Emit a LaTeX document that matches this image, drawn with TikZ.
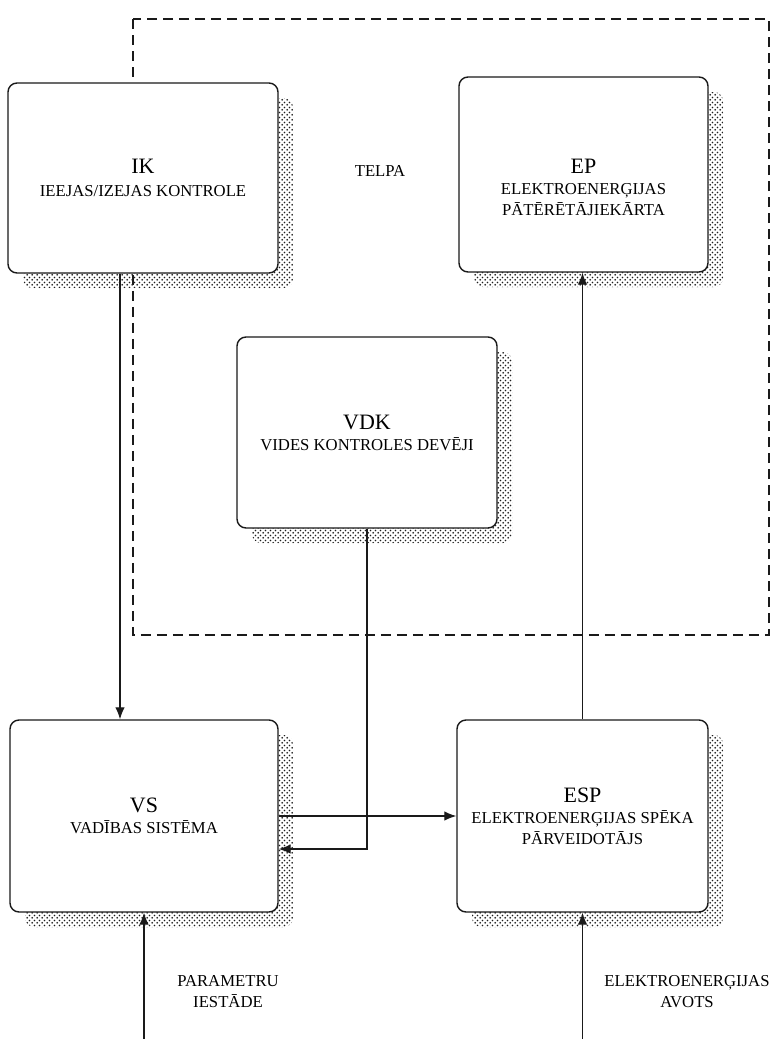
\documentclass[tikz,border=0pt]{standalone}
\usepackage{fontspec}
\setmainfont{Liberation Serif}
\usepackage{xcolor}
\definecolor{blokLine}{HTML}{1A1A1A}
\definecolor{blokDots}{HTML}{1F1F1F}
\usetikzlibrary{arrows.meta,patterns,shadows}

\pgfdeclarepatternformonly{punkti}{\pgfpointorigin}{\pgfpoint{3pt}{3pt}}{\pgfpoint{3pt}{3pt}}{
  \pgfpathcircle{\pgfpoint{0.75pt}{0.75pt}}{0.62pt}
  \pgfpathcircle{\pgfpoint{2.25pt}{2.25pt}}{0.62pt}
  \pgfusepath{fill}}

\tikzset{
  blok/.style={draw=blokLine, line width=0.8pt, fill=white, rounded corners=0.18cm,
    align=center, inner sep=0pt, font=\fontsize{9.5}{12}\selectfont,
    drop shadow={shadow xshift=0.3cm, shadow yshift=-0.3cm, pattern=punkti,
      pattern color=blokDots, opacity=1}},
  pil/.style={draw=blokLine, line width=0.7pt, -{Latex[length=2.4mm,width=1.9mm]}},
  zime/.style={align=center, font=\fontsize{9.5}{12}\selectfont}
}
\newcommand{\saisin}[1]{{\fontsize{12.5}{14}\selectfont #1}}

\begin{document}
\begin{tikzpicture}
  \useasboundingbox (0cm,0cm) rectangle (15.44cm,-20.78cm);
  \fill[white] (0cm,0cm) rectangle (15.44cm,-20.78cm);

  % telpa
  \draw[blokLine, line width=0.8pt, dash pattern=on 0.2cm off 0.12cm] (2.66cm,-0.38cm) rectangle (15.38cm,-12.7cm);
  \node[zime] (telpa) at (7.6cm,-3.42cm) {TELPA};

  \node[blok, minimum width=5.4cm, minimum height=3.8cm] (IK) at (2.86cm,-3.56cm)
    {\saisin{IK}\\[1pt]IEEJAS/IZEJAS KONTROLE};
  \node[blok, minimum width=4.98cm, minimum height=3.9cm,
    label={[zime, yshift=-0.26cm]center:{\saisin{EP}\\ELEKTROENERĢIJAS\\PĀTĒRĒTĀJIEKĀRTA}}] (EP) at (11.67cm,-3.49cm) {};
  \node[blok, minimum width=5.2cm, minimum height=3.82cm] (VDK) at (7.34cm,-8.65cm)
    {\saisin{VDK}\\VIDES KONTROLES DEVĒJI};
  \node[blok, minimum width=5.36cm, minimum height=3.84cm] (VS) at (2.88cm,-16.32cm)
    {\saisin{VS}\\VADĪBAS SISTĒMA};
  \node[blok, minimum width=5.02cm, minimum height=3.84cm] (ESP) at (11.65cm,-16.32cm)
    {\saisin{ESP}\\ELEKTROENERĢIJAS SPĒKA\\PĀRVEIDOTĀJS};

  \coordinate (apaksa) at (0cm,-20.78cm);
  \node[zime] (param) at (4.56cm,-19.84cm) {PARAMETRU\\IESTĀDE};
  \node[zime] (avots) at (13.74cm,-19.84cm) {ELEKTROENERĢIJAS\\AVOTS};

  \draw[pil] ([xshift=-0.46cm]IK.south) -- ([xshift=-0.46cm]IK.south |- VS.north);
  \draw[pil] (ESP.north) -- (ESP.north |- EP.south);
  \draw[pil] (VS.east) -- (VS.east -| ESP.west);
  \draw[pil] (VDK.south) |- ([yshift=-0.66cm]VS.east);
  \draw[pil] (VS.south |- apaksa) -- (VS.south);
  \draw[pil] (ESP.south |- apaksa) -- (ESP.south);
\end{tikzpicture}
\end{document}
